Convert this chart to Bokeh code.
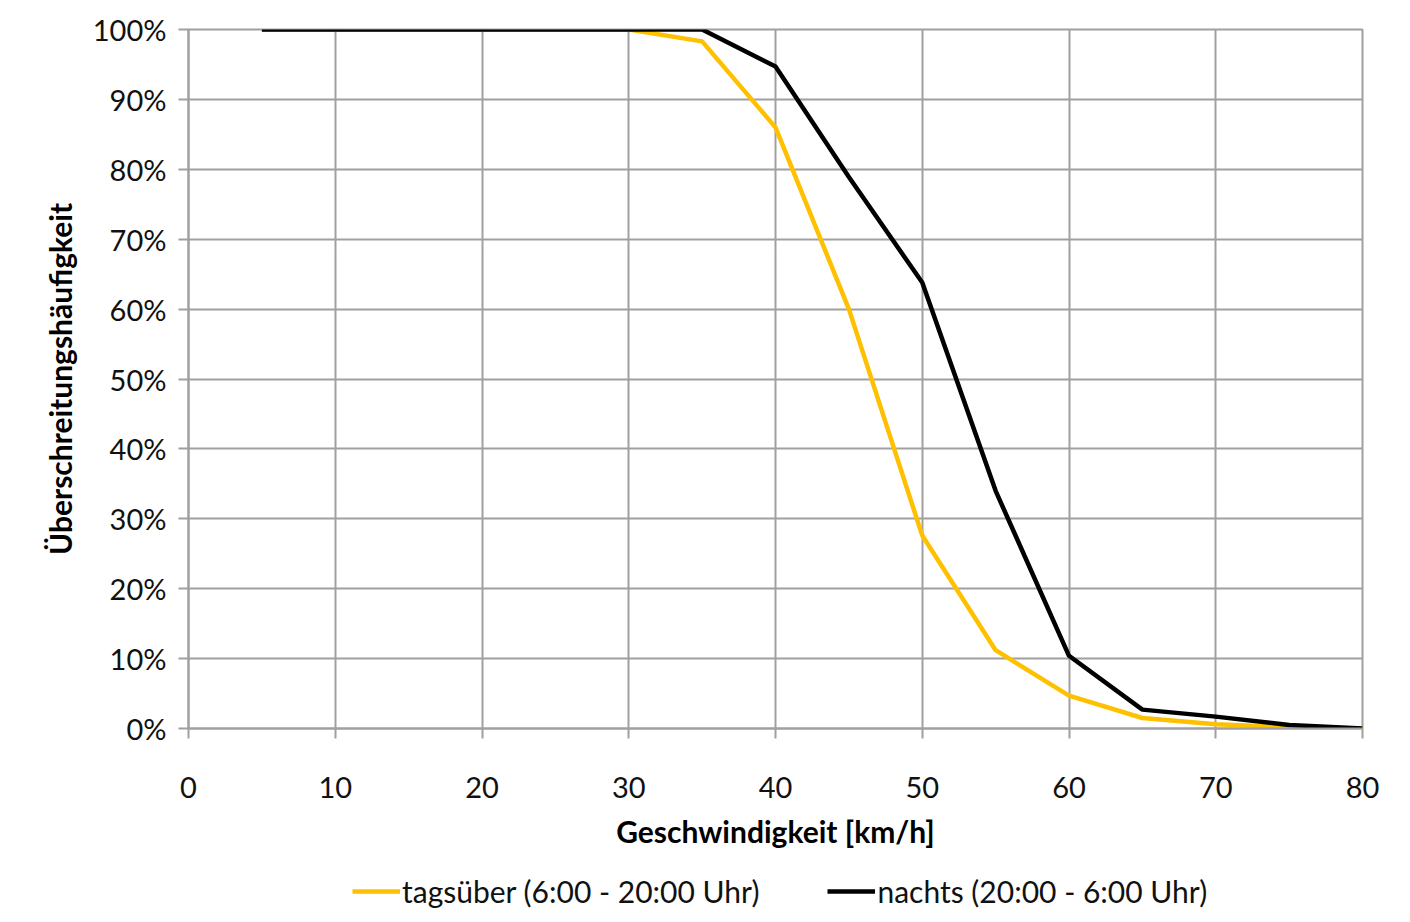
from bokeh.plotting import figure
from bokeh.layouts import column
from bokeh.models import NumeralTickFormatter, FixedTicker, Range1d, Legend, LegendItem
from bokeh.embed import file_html
from bokeh.resources import INLINE

speed = [5, 10, 15, 20, 25, 30, 35, 40, 45, 50, 55, 60, 65, 70, 75, 80]
tags = [1.0, 1.0, 1.0, 1.0, 1.0, 1.0, 0.983, 0.86, 0.60, 0.276, 0.112, 0.047, 0.015, 0.006, 0.002, 0.0]
nachts = [1.0, 1.0, 1.0, 1.0, 1.0, 1.0, 1.0, 0.947, 0.789, 0.638, 0.34, 0.104, 0.027, 0.017, 0.005, 0.0]
x_ticks = [0, 10, 20, 30, 40, 50, 60, 70, 80]
y_ticks = [0, 0.1, 0.2, 0.3, 0.4, 0.5, 0.6, 0.7, 0.8, 0.9, 1.0]
label_tags = "tagsüber (6:00 - 20:00 Uhr)"
label_nachts = "nachts (20:00 - 6:00 Uhr)"

FONT = "Lato"
GRID = "#a0a0a0"
C_TAGS = "#FFC000"
C_NACHTS = "#000000"

p = figure(width=1402, height=860, output_backend="svg", toolbar_location=None,
           x_range=Range1d(0, 80), y_range=Range1d(0, 1.0),
           min_border_left=188, min_border_right=40, min_border_top=29, min_border_bottom=132)

p.outline_line_color = GRID
p.outline_line_width = 2

p.line(speed, tags, line_color=C_TAGS, line_width=4.5)
p.line(speed, nachts, line_color=C_NACHTS, line_width=4.5)

for ax in (p.xaxis[0], p.yaxis[0]):
    ax.axis_line_color = GRID
    ax.axis_line_width = 2
    ax.major_tick_line_color = GRID
    ax.major_tick_line_width = 2
    ax.major_tick_in = 0
    ax.major_tick_out = 10
    ax.minor_tick_line_color = None
    ax.major_label_text_font = FONT
    ax.major_label_text_font_size = "29px"
    ax.major_label_text_color = "#111111"
    ax.axis_label_text_font = FONT
    ax.axis_label_text_font_size = "30px"
    ax.axis_label_text_font_style = "bold"
    ax.axis_label_text_color = "#000000"

p.xaxis.ticker = FixedTicker(ticks=x_ticks)
p.yaxis.ticker = FixedTicker(ticks=y_ticks)
p.yaxis.formatter = NumeralTickFormatter(format="0%")
p.xaxis.axis_label = "Geschwindigkeit [km/h]"
p.yaxis.axis_label = "Überschreitungshäufigkeit"
p.xaxis.major_label_standoff = 38
p.yaxis.major_label_standoff = 12
p.xaxis.axis_label_standoff = 12
p.yaxis.axis_label_standoff = 12

p.xgrid.ticker = FixedTicker(ticks=x_ticks)
p.ygrid.ticker = FixedTicker(ticks=y_ticks)
p.grid.grid_line_color = GRID
p.grid.grid_line_width = 2

# legend strip below the chart (same series, drawn out of view so only the legend shows)
lf = figure(width=1402, height=54, output_backend="svg", toolbar_location=None,
            x_range=Range1d(100, 101), y_range=Range1d(0, 1),
            x_axis_type=None, y_axis_type=None,
            min_border_left=188, min_border_right=40,
            min_border_top=0, min_border_bottom=0)
lf.outline_line_color = None
lf.grid.visible = False
lr1 = lf.line(speed, tags, line_color=C_TAGS, line_width=4.5)
lr2 = lf.line(speed, nachts, line_color=C_NACHTS, line_width=4.5)

legend = Legend(items=[LegendItem(label=label_tags, renderers=[lr1]),
                       LegendItem(label=label_nachts, renderers=[lr2])],
                orientation="horizontal", location=(164, 5))
legend.label_text_font = FONT
legend.label_text_font_size = "30px"
legend.label_text_color = "#111111"
legend.glyph_width = 48
legend.label_standoff = 2
legend.spacing = 68
legend.border_line_color = None
legend.background_fill_alpha = 0
legend.margin = 0
legend.padding = 4
lf.add_layout(legend, "center")

layout = column(p, lf, spacing=0)
open("out.html", "w").write(file_html(layout, INLINE))
